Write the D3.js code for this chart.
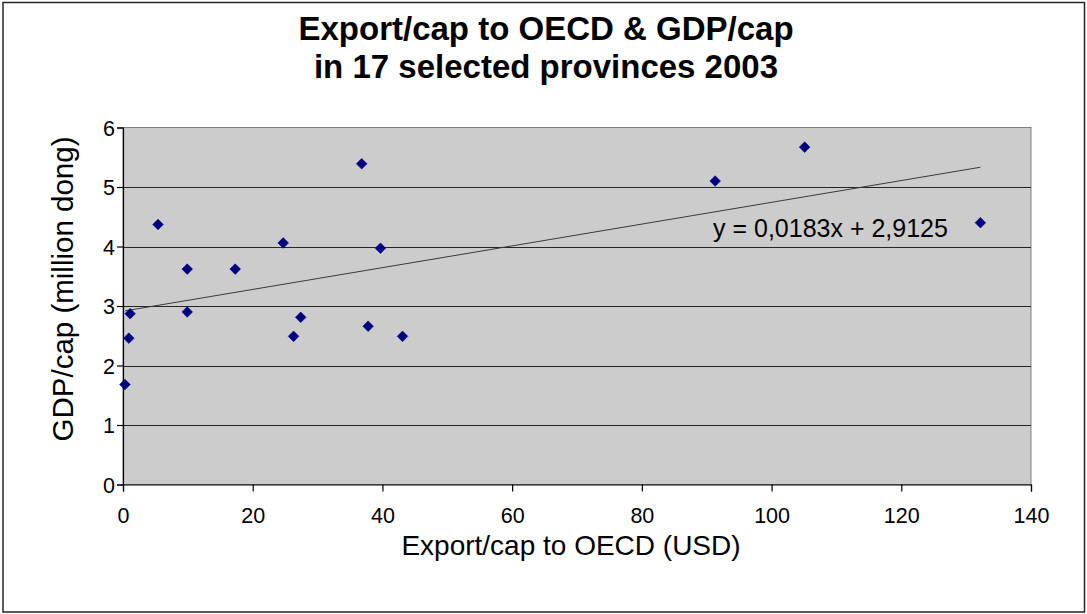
<!DOCTYPE html>
<html>
<head>
<meta charset="utf-8">
<script src="https://cdn.jsdelivr.net/npm/d3@7"></script>
<style>
  html, body { margin: 0; padding: 0; background: #ffffff; }
  svg { display: block; font-family: Arial, "Liberation Sans", sans-serif; }
</style>
</head>
<body>
<svg id="chart" width="1087" height="614"></svg>
<script>
// Export per capita to OECD (USD) and GDP per capita (million dong), 17 provinces, 2003
const exportPerCap = [0.3, 0.9, 1.1, 5.4, 9.9, 9.9, 17.3, 24.7, 26.3, 27.4, 36.8, 37.8, 39.7, 43.1, 91.3, 105.1, 132.2];
const gdpPerCap    = [1.68, 2.46, 2.87, 4.37, 3.62, 2.90, 3.62, 4.06, 2.49, 2.81, 5.39, 2.66, 3.97, 2.49, 5.10, 5.67, 4.40];

// Linear trend as reported on the chart
const trendSlope = 0.0183;
const trendIntercept = 2.9125;
const trendLabel = "y = 0,0183x + 2,9125";

const xTicks = [0, 20, 40, 60, 80, 100, 120, 140];
const yTicks = [0, 1, 2, 3, 4, 5, 6];

const titleLines = ["Export/cap to OECD & GDP/cap", "in 17 selected provinces 2003"];
const xTitle = "Export/cap to OECD (USD)";
const yTitle = "GDP/cap (million dong)";

const svg = d3.select("#chart");
const W = 1087, H = 614;
const plot = { left: 123, top: 127.5, right: 1031, bottom: 484.5 };

// Outer chart frame
svg.append("rect")
  .attr("x", 3).attr("y", 2.5)
  .attr("width", W - 5.5).attr("height", H - 4.5)
  .attr("fill", "#ffffff").attr("stroke", "#262626").attr("stroke-width", 1.5);

const x = d3.scaleLinear().domain([0, 140]).range([plot.left, plot.right]);
const y = d3.scaleLinear().domain([0, 6]).range([plot.bottom, plot.top]);

// Plot area
svg.append("rect")
  .attr("x", plot.left).attr("y", plot.top)
  .attr("width", plot.right - plot.left).attr("height", plot.bottom - plot.top)
  .attr("fill", "#cccccc").attr("stroke", "#808080").attr("stroke-width", 1);

// Horizontal gridlines
svg.append("g")
  .selectAll("line")
  .data(yTicks.filter(d => d > 0 && d < 6))
  .join("line")
  .attr("x1", plot.left).attr("x2", plot.right)
  .attr("y1", d => Math.round(y(d)) + 0.5).attr("y2", d => Math.round(y(d)) + 0.5)
  .attr("stroke", "#262626").attr("stroke-width", 1);

// Axes
const xAxis = svg.append("g")
  .attr("transform", `translate(0,${plot.bottom})`)
  .call(d3.axisBottom(x).tickValues(xTicks).tickSize(7).tickPadding(16).tickFormat(d3.format("d")));
const yAxis = svg.append("g")
  .attr("transform", `translate(${plot.left},0)`)
  .call(d3.axisLeft(y).tickValues(yTicks).tickSize(6).tickPadding(2).tickFormat(d3.format("d")));

[xAxis, yAxis].forEach(g => {
  g.select(".domain").attr("stroke", "#000").attr("stroke-width", 1.2);
  g.selectAll(".tick line").attr("stroke", "#000").attr("stroke-width", 1.2);
  g.selectAll(".tick text")
    .attr("fill", "#000")
    .style("font-size", "21.5px")
    .style("font-family", "Arial, 'Liberation Sans', sans-serif");
});
yAxis.selectAll(".tick text").attr("dy", "0.36em");

// Trendline across the range of the data
const xExt = d3.extent(exportPerCap);
svg.append("line")
  .attr("x1", x(xExt[0])).attr("y1", y(trendSlope * xExt[0] + trendIntercept))
  .attr("x2", x(xExt[1])).attr("y2", y(trendSlope * xExt[1] + trendIntercept))
  .attr("stroke", "#3a3a3a").attr("stroke-width", 1);

// Data markers (diamonds)
const diamond = d3.symbol().type(d3.symbolDiamond2).size(72);
svg.append("g")
  .selectAll("path")
  .data(exportPerCap.map((v, i) => [v, gdpPerCap[i]]))
  .join("path")
  .attr("d", diamond)
  .attr("transform", d => `translate(${x(d[0])},${y(d[1])})`)
  .attr("fill", "#000080")
  .attr("stroke", "#000080").attr("stroke-width", 0.6);

// Trend equation label
svg.append("text")
  .attr("x", 713).attr("y", 237)
  .style("font-size", "25px")
  .attr("fill", "#000")
  .text(trendLabel);

// Title
svg.append("g")
  .selectAll("text")
  .data(titleLines)
  .join("text")
  .attr("x", 546).attr("y", (d, i) => 40 + i * 38)
  .attr("text-anchor", "middle")
  .style("font-size", "33px").style("font-weight", "bold")
  .attr("fill", "#000")
  .text(d => d);

// Axis titles
svg.append("text")
  .attr("x", 571).attr("y", 555)
  .attr("text-anchor", "middle")
  .style("font-size", "28px")
  .attr("fill", "#000")
  .text(xTitle);

svg.append("text")
  .attr("transform", "translate(73,289) rotate(-90)")
  .attr("text-anchor", "middle")
  .style("font-size", "29.5px")
  .attr("fill", "#000")
  .text(yTitle);
</script>
</body>
</html>
